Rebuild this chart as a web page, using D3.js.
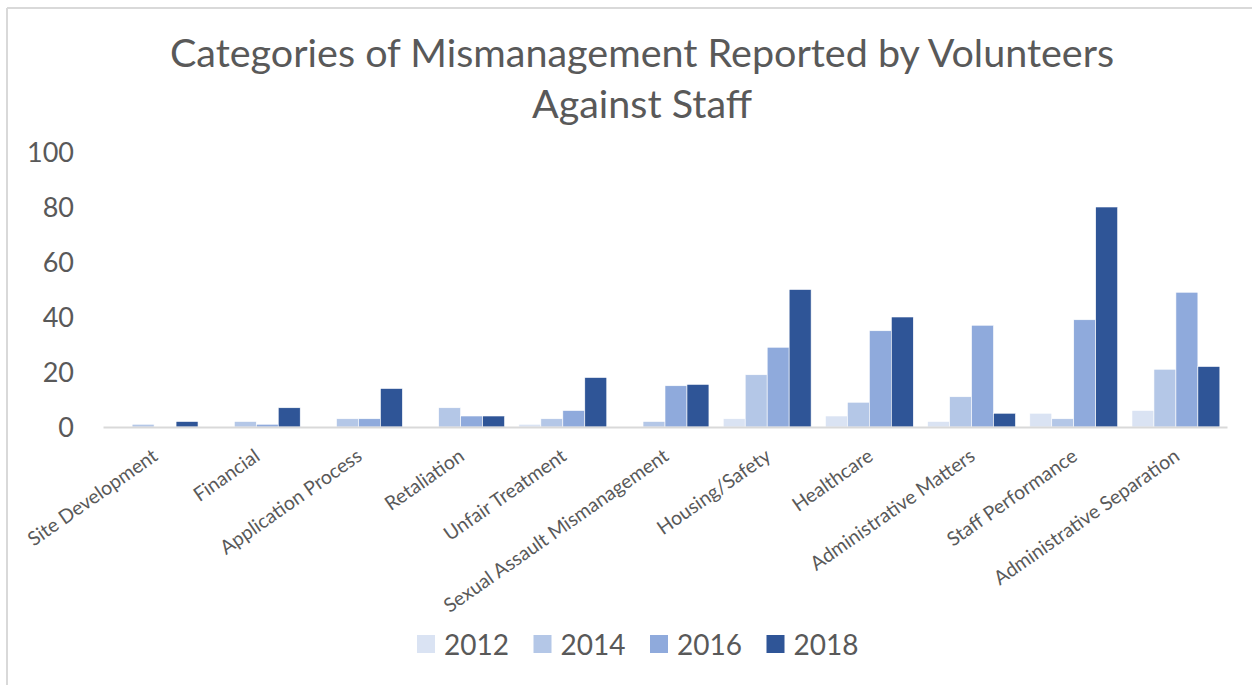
<!DOCTYPE html>
<html>
<head>
<meta charset="utf-8">
<script src="https://cdn.jsdelivr.net/npm/d3@7/dist/d3.min.js"></script>
<style>
  html, body { margin: 0; padding: 0; background: #fff; }
  svg { display: block; }
  text { font-family: Lato, "Open Sans", sans-serif; fill: #595959; }
</style>
</head>
<body>
<svg id="chart" width="1252" height="685"></svg>
<script>
const categories = ["Site Development", "Financial", "Application Process", "Retaliation",
  "Unfair Treatment", "Sexual Assault Mismanagement", "Housing/Safety", "Healthcare",
  "Administrative Matters", "Staff Performance", "Administrative Separation"];
const years = ["2012", "2014", "2016", "2018"];
const values2012 = [0, 0, 0, 0, 1, 0, 3, 4, 2, 5, 6];
const values2014 = [1, 2, 3, 7, 3, 2, 19, 9, 11, 3, 21];
const values2016 = [0, 1, 3, 4, 6, 15, 29, 35, 37, 39, 49];
const values2018 = [2, 7, 14, 4, 18, 15.5, 50, 40, 5, 80, 22];
const yTicks = [0, 20, 40, 60, 80, 100];
const colors = ["#dae3f3", "#b4c7e7", "#8faadc", "#2f5597"];
const titleLines = ["Categories of Mismanagement Reported by Volunteers", "Against Staff"];

const series = [values2012, values2014, values2016, values2018];
const svg = d3.select("#chart");

// frame
svg.append("line").attr("x1", 7).attr("x2", 1252).attr("y1", 8).attr("y2", 8)
  .attr("stroke", "#d9d9d9").attr("stroke-width", 2);
svg.append("line").attr("x1", 7).attr("x2", 7).attr("y1", 8).attr("y2", 685)
  .attr("stroke", "#d9d9d9").attr("stroke-width", 2);

// title
svg.append("g").selectAll("text").data(titleLines).join("text")
  .attr("x", 642).attr("y", (d, i) => 67 + i * 51)
  .attr("text-anchor", "middle")
  .style("font-size", "39.5px")
  .text(d => d);

const plotLeft = 103, plotRight = 1227, plotTop = 152, plotBottom = 427;
const x0 = d3.scaleBand().domain(categories).range([plotLeft, plotRight]).paddingInner(0.14).paddingOuter(0.07);
const x1 = d3.scaleBand().domain(years).range([0, x0.bandwidth()]);
const y = d3.scaleLinear().domain([0, 100]).range([plotBottom, plotTop]);

// y axis labels
const yAxis = d3.axisLeft(y).tickValues(yTicks).tickSize(0).tickPadding(0);
const gy = svg.append("g").attr("transform", `translate(74,0)`).call(yAxis);
gy.select(".domain").remove();
gy.selectAll("text").style("font-size", "27px").attr("fill", "#595959")
  .style("font-family", "Lato, 'Open Sans', sans-serif").attr("dy", "0.36em");

// bars
const groups = svg.append("g").selectAll("g").data(categories).join("g")
  .attr("transform", d => `translate(${x0(d)},0)`);
groups.selectAll("rect")
  .data((c, ci) => years.map((yr, si) => ({ yr, si, v: series[si][ci] })))
  .join("rect")
  .attr("x", d => x1(d.yr))
  .attr("width", x1.bandwidth())
  .attr("y", d => y(d.v))
  .attr("height", d => y(0) - y(d.v))
  .attr("fill", d => colors[d.si])
  .attr("stroke", "#ffffff").attr("stroke-width", 0.6);

// x axis
const xAxis = d3.axisBottom(x0).tickSize(0).tickPadding(0);
const gx = svg.append("g").attr("transform", `translate(0,${plotBottom})`).call(xAxis);
gx.select(".domain").attr("stroke", "#d9d9d9").attr("stroke-width", 2);
gx.selectAll("text")
  .style("font-size", "19.5px").attr("fill", "#595959")
  .style("font-family", "Lato, 'Open Sans', sans-serif")
  .attr("text-anchor", "end")
  .attr("dy", 0).attr("y", 0)
  .attr("transform", "translate(5,32) rotate(-35)");

// legend
const legend = svg.append("g").selectAll("g").data(years).join("g")
  .attr("transform", (d, i) => `translate(${417 + i * 116.5},635)`);
legend.append("rect").attr("width", 18).attr("height", 18).attr("fill", (d, i) => colors[i]);
legend.append("text").attr("x", 27).attr("y", 20).style("font-size", "28px").text(d => d);
</script>
</body>
</html>
